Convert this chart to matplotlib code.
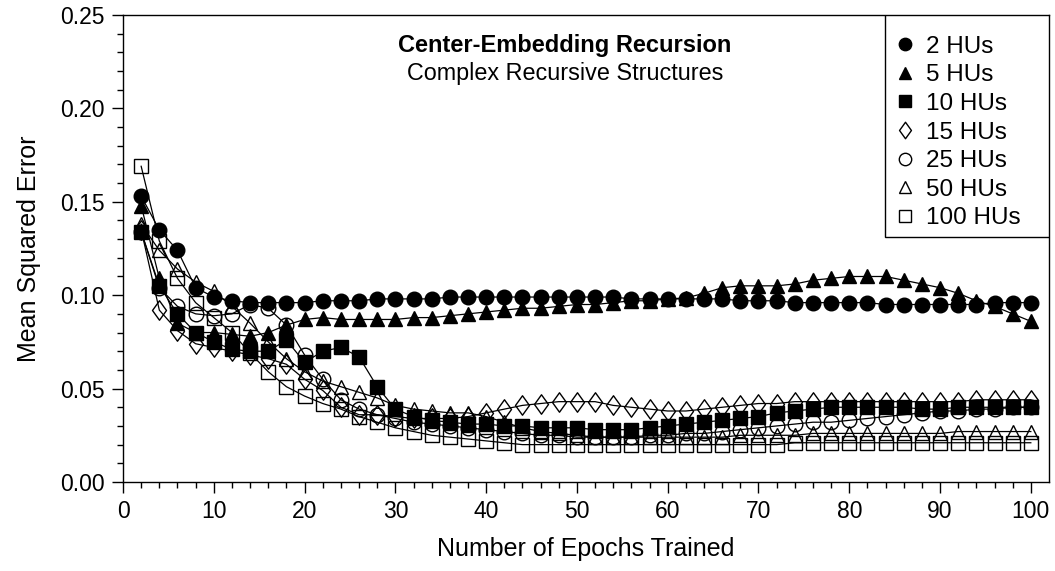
import numpy as np
import matplotlib
matplotlib.use("Agg")
import matplotlib.pyplot as plt
from matplotlib.path import Path
from matplotlib.patches import Rectangle

plt.rcParams['font.family'] = ['Liberation Sans', 'DejaVu Sans']

# Epochs at which the error was recorded
epochs = np.arange(2, 102, 2)

hu2 = [0.153, 0.135, 0.124, 0.104, 0.099, 0.097, 0.096, 0.096, 0.096, 0.096,
       0.097, 0.097, 0.097, 0.098, 0.098, 0.098, 0.098, 0.099, 0.099, 0.099,
       0.099, 0.099, 0.099, 0.099, 0.099, 0.099, 0.099, 0.098, 0.098, 0.098,
       0.098, 0.098, 0.098, 0.097, 0.097, 0.097, 0.096, 0.096, 0.096, 0.096,
       0.096, 0.095, 0.095, 0.095, 0.095, 0.095, 0.095, 0.096, 0.096, 0.096]

hu5 = [0.148, 0.109, 0.085, 0.080, 0.080, 0.079, 0.078, 0.080, 0.084, 0.087,
       0.088, 0.087, 0.087, 0.087, 0.087, 0.088, 0.088, 0.089, 0.090, 0.091,
       0.092, 0.093, 0.093, 0.094, 0.095, 0.095, 0.096, 0.097, 0.097, 0.098,
       0.0985, 0.101, 0.104, 0.105, 0.105, 0.105, 0.106, 0.108, 0.109, 0.110,
       0.110, 0.110, 0.108, 0.106, 0.104, 0.101, 0.097, 0.094, 0.090, 0.086]

hu10 = [0.134, 0.105, 0.090, 0.080, 0.075, 0.071, 0.070, 0.070, 0.076, 0.064,
        0.070, 0.072, 0.067, 0.051, 0.039, 0.035, 0.033, 0.032, 0.031, 0.031,
        0.030, 0.030, 0.029, 0.029, 0.029, 0.028, 0.028, 0.028, 0.029, 0.030,
        0.031, 0.032, 0.033, 0.034, 0.035, 0.037, 0.038, 0.039, 0.040, 0.040,
        0.040, 0.040, 0.040, 0.039, 0.039, 0.040, 0.040, 0.040, 0.040, 0.040]

hu15 = [0.135, 0.092, 0.081, 0.074, 0.072, 0.070, 0.068, 0.066, 0.063, 0.055,
        0.049, 0.040, 0.036, 0.036, 0.035, 0.034, 0.034, 0.034, 0.035, 0.037,
        0.039, 0.041, 0.042, 0.043, 0.043, 0.043, 0.041, 0.040, 0.039, 0.038,
        0.038, 0.039, 0.040, 0.041, 0.042, 0.042, 0.043, 0.043, 0.043, 0.043,
        0.043, 0.043, 0.043, 0.043, 0.043, 0.043, 0.044, 0.044, 0.044, 0.044]

hu25 = [0.134, 0.104, 0.094, 0.090, 0.089, 0.090, 0.095, 0.093, 0.084, 0.068,
        0.055, 0.044, 0.039, 0.036, 0.034, 0.032, 0.031, 0.030, 0.029, 0.028,
        0.027, 0.026, 0.025, 0.025, 0.024, 0.024, 0.024, 0.024, 0.025, 0.025,
        0.026, 0.026, 0.027, 0.028, 0.029, 0.030, 0.031, 0.032, 0.032, 0.033,
        0.034, 0.035, 0.036, 0.037, 0.038, 0.038, 0.039, 0.039, 0.040, 0.040]

hu50 = [0.138, 0.124, 0.114, 0.107, 0.102, 0.094, 0.085, 0.075, 0.066, 0.059,
        0.054, 0.051, 0.048, 0.045, 0.041, 0.039, 0.038, 0.037, 0.037, 0.035,
        0.032, 0.029, 0.027, 0.026, 0.025, 0.024, 0.024, 0.024, 0.024, 0.024,
        0.024, 0.024, 0.024, 0.025, 0.025, 0.025, 0.025, 0.026, 0.026, 0.026,
        0.026, 0.026, 0.026, 0.026, 0.026, 0.027, 0.027, 0.027, 0.027, 0.027]

hu100 = [0.169, 0.129, 0.109, 0.096, 0.088, 0.080, 0.069, 0.059, 0.051, 0.046,
         0.042, 0.039, 0.035, 0.032, 0.029, 0.027, 0.025, 0.024, 0.023, 0.022,
         0.021, 0.020, 0.020, 0.020, 0.020, 0.020, 0.020, 0.020, 0.020, 0.020,
         0.020, 0.020, 0.020, 0.020, 0.020, 0.020, 0.021, 0.021, 0.021, 0.021,
         0.021, 0.021, 0.021, 0.021, 0.021, 0.021, 0.021, 0.021, 0.021, 0.021]

labels = ['2 HUs', '5 HUs', '10 HUs', '15 HUs', '25 HUs', '50 HUs', '100 HUs']
series = [hu2, hu5, hu10, hu15, hu25, hu50, hu100]

# wide diamond like the SigmaPlot one
diamond = Path([(0, 1), (0.72, 0), (0, -1), (-0.72, 0), (0, 1)],
               [Path.MOVETO, Path.LINETO, Path.LINETO, Path.LINETO, Path.CLOSEPOLY])

styles = [
    dict(marker='o', ms=10.5, mfc='black'),
    dict(marker='^', ms=10, mfc='black'),
    dict(marker='s', ms=10, mfc='black'),
    dict(marker=diamond, ms=14, mfc='none'),
    dict(marker='o', ms=10.5, mfc='none'),
    dict(marker='^', ms=10, mfc='none'),
    dict(marker='s', ms=10, mfc='none'),
]

fig = plt.figure(figsize=(10.55, 5.71), dpi=100)
ax = fig.add_axes([0.1166, 0.1559, 0.8777, 0.8179])

for vals, lab, st in zip(series, labels, styles):
    ax.plot(epochs, vals, color='black', lw=0.9, mec='black', mew=1.0,
            label=lab, **st)

ax.set_xlim(0, 102)
ax.set_ylim(0, 0.25)
ax.set_xticks(np.arange(0, 101, 10))
ax.set_xticks(np.arange(0, 101, 2), minor=True)
ax.set_yticks(np.arange(0, 0.251, 0.05))
ax.set_yticks(np.arange(0, 0.251, 0.01), minor=True)
ax.yaxis.set_major_formatter(matplotlib.ticker.FormatStrFormatter('%.2f'))
ax.tick_params(which='major', direction='out', length=8, width=1, labelsize=16.5, pad=5)
ax.tick_params(which='minor', direction='out', length=4.5, width=1)
for s in ax.spines.values():
    s.set_linewidth(1)

ax.set_xlabel('Number of Epochs Trained', fontsize=18, labelpad=10)
ax.set_ylabel('Mean Squared Error', fontsize=18, labelpad=14)

ax.text(0.477, 0.935, 'Center-Embedding Recursion', transform=ax.transAxes,
        ha='center', va='center', fontsize=17, fontweight='bold')
ax.text(0.477, 0.875, 'Complex Recursive Structures', transform=ax.transAxes,
        ha='center', va='center', fontsize=16.8)

# legend box drawn separately so it spans the same area as in the original
ax.add_patch(Rectangle((0.8226, 0.5246), 1 - 0.8226, 1 - 0.5246,
                       transform=ax.transAxes, facecolor='white',
                       edgecolor='black', lw=1, zorder=4))

leg_handles = [plt.Line2D([], [], color='black', ls='none', mec='black',
                          marker=st['marker'], mfc=st['mfc'],
                          ms=st['ms'] * 0.85) for st in styles]
leg = ax.legend(leg_handles, labels, loc='upper left',
                bbox_to_anchor=(0.834, 0.9554), fontsize=17.5,
                frameon=False, borderaxespad=0, borderpad=0,
                labelspacing=0.27, handlelength=0.8, handletextpad=0.45)
leg.set_zorder(5)

fig.savefig('out.png', dpi=100)
